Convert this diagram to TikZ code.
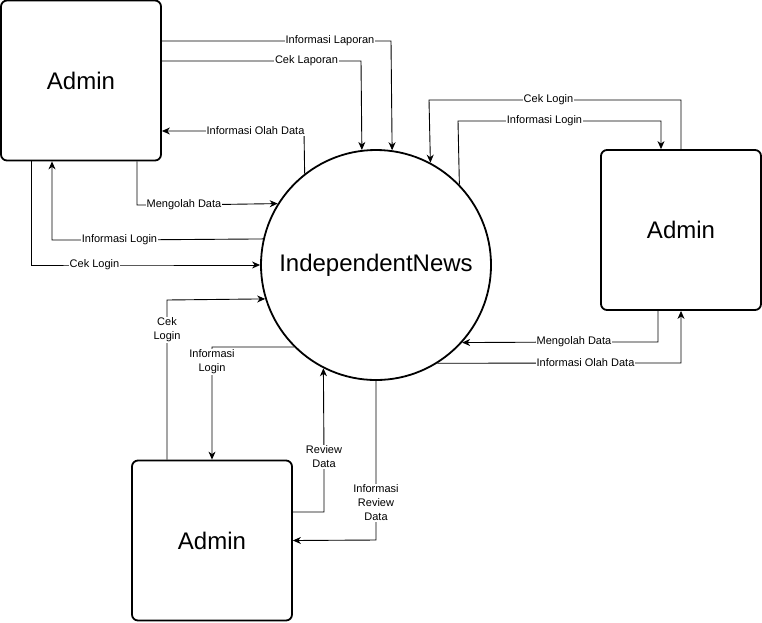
\documentclass[tikz,border=0pt]{standalone}
\usepackage{fontspec}
\setmainfont{Liberation Sans}
\usetikzlibrary{arrows.meta}
\begin{document}
\begin{tikzpicture}[x=1pt,y=-1pt,
  adminbox/.style={draw,line width=1.8pt,rounded corners=6pt,fill=white,minimum width=160pt,minimum height=160pt,font=\fontsize{24}{28}\selectfont},
  proc/.style={draw,circle,line width=1.8pt,fill=white,minimum size=230pt,inner sep=0pt,font=\fontsize{24}{28}\selectfont},
  arr/.style={line width=0.9pt,-{Stealth[length=8pt,width=7pt,inset=2.5pt]}},
  lbl/.style={fill=white,inner sep=0.8pt,align=center,font=\fontsize{11}{14}\selectfont}]
\useasboundingbox (0,0) rectangle (762,622);

\node[adminbox] (a1) at (81,80.5) {Admin};
\node[adminbox] (a2) at (681,230) {Admin};
\node[adminbox] (a3) at (212,540.5) {Admin};
\node[proc] (c) at (376,265) {IndependentNews};

% top-left admin
\draw[arr] ([yshift=39.5pt]a1.east) -- (330,41) node[lbl]{Informasi Laporan} -- (391,41) -- (c.82.5);
\draw[arr] ([yshift=19.5pt]a1.east) -- (306.5,61) node[lbl]{Cek Laporan} -- (361,61) -- (c.97.5);
\draw[arr] (c.128.8) -- (304,131) -- (255.5,131) node[lbl]{Informasi Olah Data} -- ([yshift=-50.5pt]a1.east);
\draw[arr] ([xshift=56pt]a1.south) -- (137,205) -- (184,205) node[lbl]{Mengolah Data} -- (c.148.55);
\draw[arr] (c.167.44) -- (119.5,240) node[lbl]{Informasi Login} -- (52,240) -- ([xshift=-29pt]a1.south);
\draw[arr] ([xshift=-50pt]a1.south) -- (31,265) -- (94.5,265) node[lbl]{Cek Login} -- (c.west);

% right admin
\draw[arr] (a2.north) -- (681,100) -- (548.5,100) node[lbl]{Cek Login} -- (429,100) -- (c.62.55);
\draw[arr] (c.44.51) -- (458,121) -- (544.5,121) node[lbl]{Informasi Login} -- (661,121) -- ([xshift=-20pt]a2.north);
\draw[arr] ([xshift=-23pt]a2.south) -- (658,342) -- (574,342) node[lbl]{Mengolah Data} -- (c.-42.03);
\draw[arr] (c.-58.45) -- (585.5,363) node[lbl]{Informasi Olah Data} -- (681,363) -- (a2.south);

% bottom admin
\draw[arr] ([xshift=-45pt]a3.north) -- (167,330) node[lbl]{Cek\\Login} -- (167,300) -- (c.197.72);
\draw[arr] (c.225.49) -- (212,347) -- (212,362) node[lbl]{Informasi\\Login} -- (a3.north);
\draw[arr] ([yshift=28.5pt]a3.east) -- (324,512) -- (324,457) node[lbl]{Review\\Data} -- (c.243.12);
\draw[arr] (c.south) -- (376,503) node[lbl]{Informasi\\Review\\Data} -- (376,540) -- (a3.east);
\end{tikzpicture}
\end{document}
